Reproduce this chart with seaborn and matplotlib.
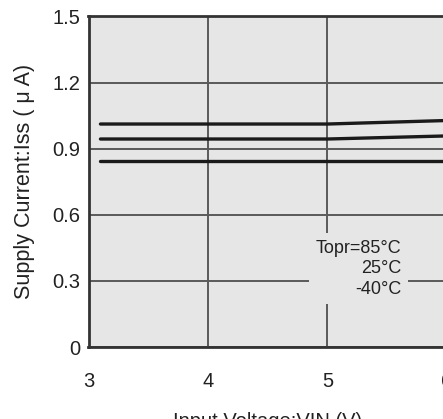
import matplotlib
matplotlib.use("Agg")
import matplotlib.pyplot as plt
import seaborn as sns
import pandas as pd

# Data
volt = [3.1, 5.0, 5.5, 6.0]
i_85 = [1.012, 1.012, 1.020, 1.028]
i_25 = [0.944, 0.944, 0.951, 0.958]
i_m40 = [0.845, 0.845, 0.845, 0.845]
series_names = ["85", "25", "-40"]
x_ticks = [3, 4, 5, 6]
y_ticks = [0, 0.3, 0.6, 0.9, 1.2, 1.5]
y_tick_labels = ["0", "0.3", "0.6", "0.9", "1.2", "1.5"]

df = pd.concat([
    pd.DataFrame({"V": volt, "I": vals, "T": name})
    for name, vals in zip(series_names, [i_85, i_25, i_m40])
])

sns.set_theme(style="white")
plt.rcParams["font.family"] = ["Liberation Sans", "DejaVu Sans"]

fig = plt.figure(figsize=(4.43, 4.19), dpi=100)
ax = fig.add_axes([88.5 / 443, 72 / 419, 358.5 / 443, 330.5 / 419])
ax.set_facecolor("#e6e6e6")

sns.lineplot(data=df, x="V", y="I", hue="T", palette=["#1a1a1a"] * 3,
             linewidth=2.4, legend=False, ax=ax, zorder=3)

ax.set_xlim(3, 6)
ax.set_ylim(0, 1.5)
ax.set_xticks(x_ticks)
ax.set_yticks(y_ticks)
ax.set_yticklabels(y_tick_labels)
ax.grid(True, color="#5a5a5a", linewidth=1.4, zorder=1)
ax.set_axisbelow(True)
ax.tick_params(axis="both", length=0, labelsize=14.5, colors="#222222")
ax.tick_params(axis="x", pad=18)
ax.tick_params(axis="y", pad=6)
for s in ax.spines.values():
    s.set_color("#333333")
    s.set_linewidth(2)

ax.set_xlabel("Input Voltage:VIN (V)", fontsize=14.5, color="#222222", labelpad=15)
ax.set_ylabel("Supply Current:Iss ( μ A)", fontsize=15.5, color="#222222", labelpad=12)

ax.text(5.62, 0.485, "Topr=85°C\n25°C\n-40°C", ha="right", va="top",
        fontsize=13, color="#222222", linespacing=1.25, zorder=4,
        bbox=dict(facecolor="#e6e6e6", edgecolor="none", pad=5))

fig.savefig("out.png", dpi=100)
